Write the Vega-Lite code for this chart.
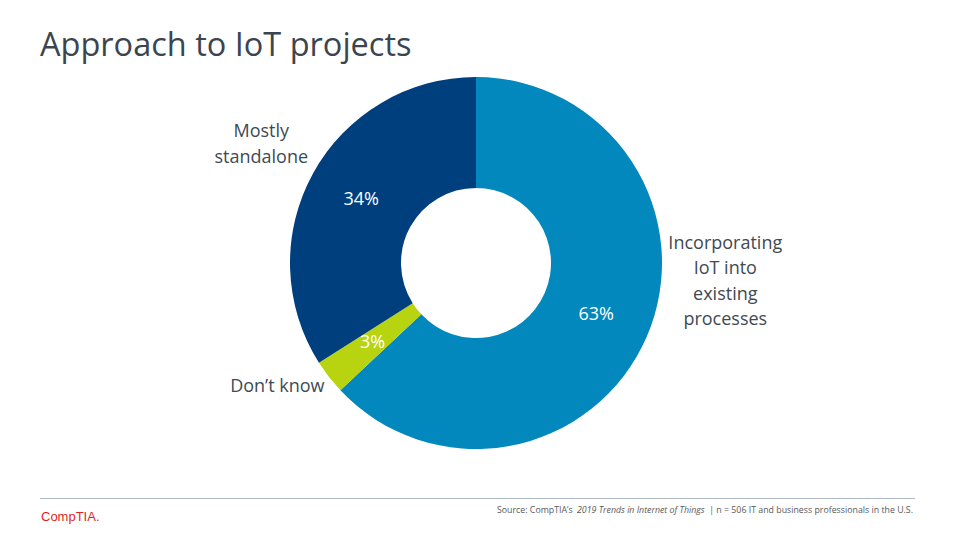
{
  "$schema": "https://vega.github.io/schema/vega-lite/v6.json",
  "width": 952,
  "height": 526,
  "autosize": {"type": "none"},
  "padding": 0,
  "background": "white",
  "config": {"view": {"stroke": null}, "font": "Open Sans"},
  "datasets": {
    "slices": [
      {"category": "Incorporating IoT into existing processes", "label": "Incorporating\nIoT into\nexisting\nprocesses", "share": 0.63, "order": 1},
      {"category": "Don’t know", "label": "Don’t know", "share": 0.03, "order": 2},
      {"category": "Mostly standalone", "label": "Mostly\nstandalone", "share": 0.34, "order": 3}
    ],
    "notes": [{}]
  },
  "layer": [
    {
      "data": {"name": "slices"},
      "mark": {"type": "arc", "radius": 186, "innerRadius": 75},
      "encoding": {
        "theta": {"field": "share", "type": "quantitative", "stack": true},
        "order": {"field": "order", "type": "quantitative"},
        "color": {
          "field": "category",
          "type": "nominal",
          "scale": {
            "domain": ["Incorporating IoT into existing processes", "Don’t know", "Mostly standalone"],
            "range": ["#0288BC", "#B8D30F", "#003F7D"]
          },
          "legend": null
        }
      }
    },
    {
      "data": {"name": "slices"},
      "mark": {"type": "text", "radius": 131, "fill": "white", "fontSize": 18, "align": "center", "baseline": "middle"},
      "encoding": {
        "theta": {"field": "share", "type": "quantitative", "stack": true},
        "order": {"field": "order", "type": "quantitative"},
        "text": {"field": "share", "type": "quantitative", "format": ".0%"}
      }
    },
    {
      "data": {"name": "slices"},
      "transform": [{"filter": "datum.order == 3"}],
      "mark": {"type": "text", "radius": 245, "dy": -13, "fill": "#404A54", "fontSize": 18, "lineHeight": 26, "lineBreak": "\n", "align": "center", "baseline": "middle"},
      "encoding": {
        "theta": {"datum": 0.83},
        "text": {"field": "label", "type": "nominal"}
      }
    },
    {
      "data": {"name": "slices"},
      "transform": [{"filter": "datum.order == 1"}],
      "mark": {"type": "text", "radius": 250, "dy": -38, "fill": "#404A54", "fontSize": 18, "lineHeight": 25.5, "lineBreak": "\n", "align": "center", "baseline": "middle"},
      "encoding": {
        "theta": {"datum": 0.262},
        "text": {"field": "label", "type": "nominal"}
      }
    },
    {
      "data": {"name": "slices"},
      "transform": [{"filter": "datum.order == 2"}],
      "mark": {"type": "text", "radius": 233, "dy": 2, "fill": "#404A54", "fontSize": 18, "align": "center", "baseline": "middle"},
      "encoding": {
        "theta": {"datum": 0.6625},
        "text": {"field": "label", "type": "nominal"}
      }
    },
    {
      "data": {"name": "notes"},
      "mark": {"type": "text", "fill": "#3B4550", "fontSize": 32.5, "align": "left", "baseline": "alphabetic"},
      "encoding": {
        "x": {"datum": 40, "type": "quantitative", "scale": {"domain": [0, 952], "nice": false, "zero": false}, "axis": null},
        "y": {"datum": 56, "type": "quantitative", "scale": {"domain": [0, 526], "reverse": true, "nice": false, "zero": false}, "axis": null},
        "text": {"value": "Approach to IoT projects"}
      }
    },
    {
      "data": {"name": "notes"},
      "mark": {"type": "rule", "stroke": "#AEB9C6", "strokeWidth": 1},
      "encoding": {
        "x": {"datum": 40, "type": "quantitative", "scale": {"domain": [0, 952], "nice": false, "zero": false}, "axis": null},
        "x2": {"datum": 915},
        "y": {"datum": 498.5, "type": "quantitative", "scale": {"domain": [0, 526], "reverse": true, "nice": false, "zero": false}, "axis": null}
      }
    },
    {
      "data": {"name": "notes"},
      "mark": {"type": "text", "fill": "#E31F26", "fontSize": 13, "font": "Liberation Sans", "align": "left", "baseline": "alphabetic"},
      "encoding": {
        "x": {"datum": 41, "type": "quantitative", "scale": {"domain": [0, 952], "nice": false, "zero": false}, "axis": null},
        "y": {"datum": 521, "type": "quantitative", "scale": {"domain": [0, 526], "reverse": true, "nice": false, "zero": false}, "axis": null},
        "text": {"value": "CompTIA."}
      }
    },
    {
      "data": {"name": "notes"},
      "mark": {"type": "text", "fill": "#595959", "fontSize": 8.8, "align": "left", "baseline": "alphabetic"},
      "encoding": {
        "x": {"datum": 497, "type": "quantitative", "scale": {"domain": [0, 952], "nice": false, "zero": false}, "axis": null},
        "y": {"datum": 513, "type": "quantitative", "scale": {"domain": [0, 526], "reverse": true, "nice": false, "zero": false}, "axis": null},
        "text": {"value": "Source: CompTIA’s"}
      }
    },
    {
      "data": {"name": "notes"},
      "mark": {"type": "text", "fill": "#595959", "fontSize": 8.8, "fontStyle": "italic", "align": "left", "baseline": "alphabetic"},
      "encoding": {
        "x": {"datum": 577, "type": "quantitative", "scale": {"domain": [0, 952], "nice": false, "zero": false}, "axis": null},
        "y": {"datum": 513, "type": "quantitative", "scale": {"domain": [0, 526], "reverse": true, "nice": false, "zero": false}, "axis": null},
        "text": {"value": "2019 Trends in Internet of Things"}
      }
    },
    {
      "data": {"name": "notes"},
      "mark": {"type": "text", "fill": "#595959", "fontSize": 8.8, "align": "right", "baseline": "alphabetic"},
      "encoding": {
        "x": {"datum": 913, "type": "quantitative", "scale": {"domain": [0, 952], "nice": false, "zero": false}, "axis": null},
        "y": {"datum": 513, "type": "quantitative", "scale": {"domain": [0, 526], "reverse": true, "nice": false, "zero": false}, "axis": null},
        "text": {"value": "| n = 506 IT and business professionals in the U.S."}
      }
    }
  ]
}
